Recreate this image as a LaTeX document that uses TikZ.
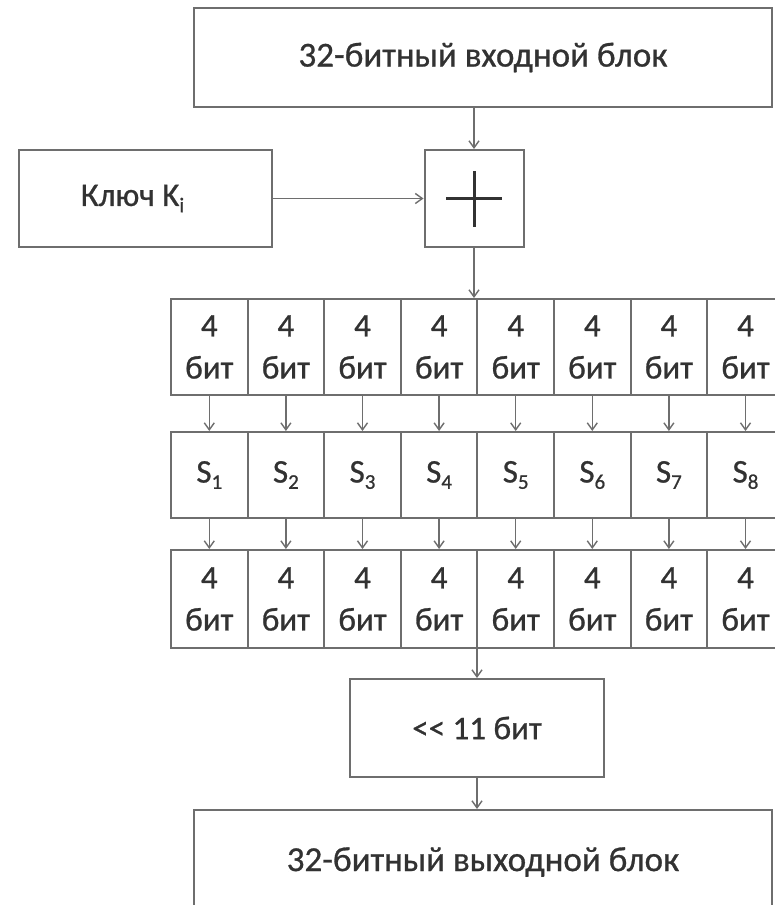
\documentclass[tikz,border=0pt]{standalone}
\usepackage{fontspec}
\setmainfont[FakeBold=0.8]{Carlito}
\usetikzlibrary{arrows.meta}
\definecolor{ln}{RGB}{110,110,110}
\definecolor{tx}{RGB}{50,50,50}
\newcommand\sbs[1]{\raisebox{-0.4ex}{\fontsize{21}{21}\selectfont #1}}
\begin{document}
\begin{tikzpicture}[x=1pt,y=-1pt,
  box/.style={draw=ln, line width=2pt, fill=white, inner sep=0pt, text=tx,
              font=\fontsize{35}{40}\selectfont, align=center},
  cell/.style={box, minimum width=76.6pt, font=\fontsize{33}{42}\selectfont},
  arr/.style={draw=ln, line width=1.4pt,
              -{Straight Barb[length=7pt,width=10pt,line width=1.4pt]}},
  plus/.style={draw=tx, line width=3pt}
]
\useasboundingbox (0,0) rectangle (774,905);
\fill[white] (0,0) rectangle (774,905);

\node[box, minimum width=578pt, minimum height=99pt] (in) at (483,57.5) {32-битный входной блок};
\node[box, minimum width=253pt, minimum height=97pt, font=\fontsize{33}{40}\selectfont] (key) at (145.5,198.5) {Ключ K\sbs{i}\hspace*{26pt}};
\node[box, minimum width=99pt, minimum height=97pt] (xor) at (474,198.5) {};
\draw[plus] ([yshift=-28pt]xor.center) -- ([yshift=28pt]xor.center)
            ([xshift=-28pt]xor.center) -- ([xshift=28pt]xor.center);

\foreach \i in {1,...,8}{
  \pgfmathsetmacro\cx{171+76.6*(\i-0.5)}
  \node[cell, minimum height=96pt] (b\i) at (\cx,347) {4\\бит};
  \node[cell, minimum height=86pt] (s\i) at (\cx,475) {S\sbs{\i}};
  \node[cell, minimum height=98pt] (c\i) at (\cx,599) {4\\бит};
}
\foreach \i in {1,...,8}{
  \draw[arr] (b\i.south) -- (s\i.north);
  \draw[arr] (s\i.south) -- (c\i.north);
}

\node[box, minimum width=254pt, minimum height=98pt, font=\fontsize{33}{40}\selectfont] (sh) at (477,728) {<\kern0pt< 11 бит};
\node[box, minimum width=578pt, minimum height=104pt] (out) at (483,862) {32-битный выходной блок};

\draw[arr] (in.south -| xor) -- (xor.north);
\draw[arr] (key.east) -- (xor.west);
\draw[arr] (xor.south) -- (xor.south |- b1.north);
\draw[arr] (sh.north |- c1.south) -- (sh.north);
\draw[arr] (sh.south) -- (sh.south |- out.north);
\end{tikzpicture}
\end{document}
